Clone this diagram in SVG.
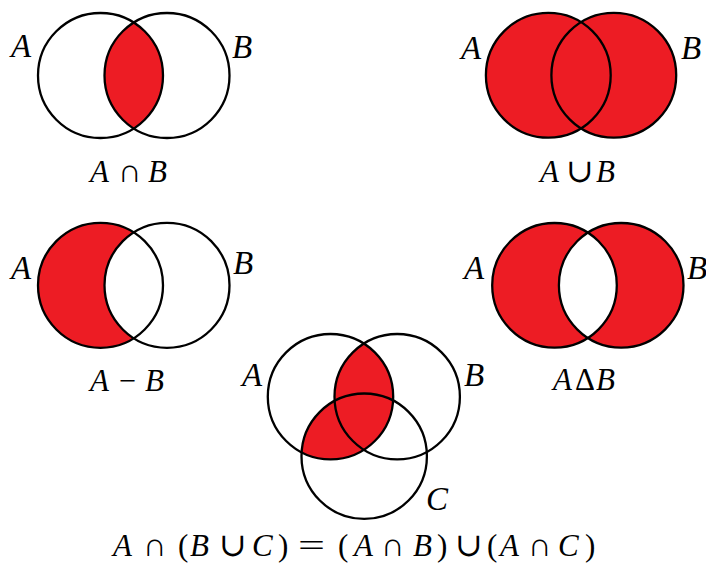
<svg xmlns="http://www.w3.org/2000/svg" width="706" height="563" viewBox="0 0 706 563">
<style>
.o{fill:none;stroke:#000;stroke-width:2.3}
.r{fill:#ED1C24}
.w{fill:#fff}
text{font-family:"Liberation Serif","DejaVu Serif",serif;fill:#000}
.l{font-size:33px;font-style:italic}
.c{font-size:31px}
.i{font-style:italic}
.p{font-size:33px}
</style>
<defs>
<clipPath id="c1a"><circle cx="100.5" cy="75.5" r="62.5"/></clipPath>
<clipPath id="c4a"><circle cx="554.5" cy="285.3" r="62.3"/></clipPath>
<clipPath id="c5a"><circle cx="330.5" cy="396.7" r="62.7"/></clipPath>
</defs>
<rect width="706" height="563" fill="#fff"/>

<g id="intersection">
<circle class="r" cx="167" cy="75.5" r="62.5" clip-path="url(#c1a)"/>
<circle class="o" cx="100.5" cy="75.5" r="62.5"/>
<circle class="o" cx="167" cy="75.5" r="62.5"/>
<text class="l" x="11" y="57">A</text>
<text class="l" x="232" y="58">B</text>
<text class="c"><tspan class="i" x="90" y="182">A</tspan><tspan class="p" x="118" y="182">∩</tspan><tspan class="i" x="148" y="182">B</tspan></text>
</g>

<g id="union">
<circle class="r" cx="548.3" cy="75.3" r="62.4"/>
<circle class="r" cx="613.8" cy="75.3" r="62.4"/>
<circle class="o" cx="548.3" cy="75.3" r="62.4"/>
<circle class="o" cx="613.8" cy="75.3" r="62.4"/>
<text class="l" x="461" y="59">A</text>
<text class="l" x="681" y="59">B</text>
<text class="c"><tspan class="i" x="540" y="182">A</tspan><tspan class="p" x="566" y="182">∪</tspan><tspan class="i" x="596" y="182">B</tspan></text>
</g>

<g id="difference">
<circle class="r" cx="100.5" cy="285.3" r="62.5"/>
<circle class="w" cx="167" cy="285.3" r="62.5"/>
<circle class="o" cx="100.5" cy="285.3" r="62.5"/>
<circle class="o" cx="167" cy="285.3" r="62.5"/>
<text class="l" x="11" y="279">A</text>
<text class="l" x="233" y="274">B</text>
<text class="c"><tspan class="i" x="90" y="391">A</tspan><tspan class="i" x="145" y="391">B</tspan></text>
<text class="c" x="119" y="391" textLength="17" lengthAdjust="spacingAndGlyphs">−</text>
</g>

<g id="symdiff">
<circle class="r" cx="554.5" cy="285.3" r="62.3"/>
<circle class="r" cx="621.2" cy="285.3" r="62.3"/>
<circle class="w" cx="621.2" cy="285.3" r="62.3" clip-path="url(#c4a)"/>
<circle class="o" cx="554.5" cy="285.3" r="62.3"/>
<circle class="o" cx="621.2" cy="285.3" r="62.3"/>
<text class="l" x="464" y="279">A</text>
<text class="l" x="687" y="279">B</text>
<text class="c"><tspan class="i" x="553" y="390">A</tspan><tspan x="575" y="390">Δ</tspan><tspan class="i" x="596" y="390">B</tspan></text>
</g>

<g id="distributive">
<g clip-path="url(#c5a)">
<circle class="r" cx="397.2" cy="396.7" r="62.7"/>
<circle class="r" cx="364.2" cy="456.2" r="62.7"/>
</g>
<circle class="o" cx="330.5" cy="396.7" r="62.7"/>
<circle class="o" cx="397.2" cy="396.7" r="62.7"/>
<circle class="o" cx="364.2" cy="456.2" r="62.7"/>
<text class="l" x="242" y="386">A</text>
<text class="l" x="464" y="386">B</text>
<text class="l" x="426" y="510">C</text>
</g>

<g id="equation">
<text class="c"><tspan class="i" x="113" y="556">A</tspan><tspan class="p" x="143" y="556">∩</tspan><tspan x="178" y="556">(</tspan><tspan class="i" x="190" y="556">B</tspan><tspan class="p" x="219" y="556">∪</tspan><tspan class="i" x="252" y="556">C</tspan><tspan x="278" y="556">)</tspan><tspan x="338" y="556">(</tspan><tspan class="i" x="354" y="556">A</tspan><tspan class="p" x="381" y="556">∩</tspan><tspan class="i" x="413" y="556">B</tspan><tspan x="437" y="556">)</tspan><tspan class="p" x="455" y="556">∪</tspan><tspan x="487" y="556">(</tspan><tspan class="i" x="500" y="556">A</tspan><tspan class="p" x="528" y="556">∩</tspan><tspan class="i" x="558" y="556">C</tspan><tspan x="585" y="556">)</tspan></text>
<text class="c" x="298" y="556" textLength="27" lengthAdjust="spacingAndGlyphs">=</text>
</g>
</svg>
